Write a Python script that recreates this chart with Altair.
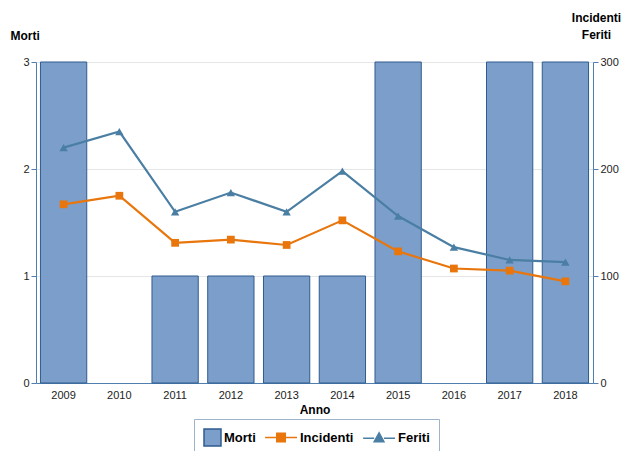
import altair as alt
import pandas as pd

anni = ["2009", "2010", "2011", "2012", "2013", "2014", "2015", "2016", "2017", "2018"]
morti = [3, 0, 1, 1, 1, 1, 3, 0, 3, 3]
incidenti = [167, 175, 131, 134, 129, 152, 123, 107, 105, 95]
feriti = [220, 235, 160, 178, 160, 198, 156, 127, 115, 113]

serie = ["Morti", "Incidenti", "Feriti"]
riempimenti = ["#7b9fca", "#e8760c", "#4a7ea3"]
contorni = ["#2f5b8f", "#e8760c", "#4a7ea3"]
forme_legenda = [
    "M-1,-1H1V1H-1Z",
    "M-1,-1M-1,1M-2.75,0H-1.38M-0.38,0H1M-1.38,-0.5H-0.38V0.5H-1.38Z",
    "M-1,-1M-1,1M-2.75,0.1H-1.45M-0.3,0.1H1M-0.87,-0.55L-0.3,0.5H-1.45Z",
]

COL_MORTI, COL_INC, COL_FER = "#7b9fca", "#e8760c", "#4a7ea3"
FONT = "Liberation Sans"
AX_COL = "#4f7fae"

bars_df = pd.DataFrame({"Anno": anni, "Valore": morti})
inc_df = pd.DataFrame({"Anno": anni, "Valore": incidenti})
fer_df = pd.DataFrame({"Anno": anni, "Valore": feriti})
leg_df = pd.DataFrame({"Serie": serie})

x_enc = alt.X("Anno:N", title="Anno", sort=anni,
              scale=alt.Scale(domain=anni, paddingInner=0.17, paddingOuter=0.08),
              axis=alt.Axis(labelAngle=0, ticks=False, domainColor=AX_COL,
                            labelFontSize=11, labelColor="#222", titleFontSize=12,
                            titleFontWeight="bold", titleColor="#000", labelPadding=6,
                            titlePadding=4))

bars = alt.Chart(bars_df).transform_filter("datum.Valore > 0").mark_bar(
    color=COL_MORTI, stroke="#2f5b8f", strokeWidth=1
).encode(
    x=x_enc,
    y=alt.Y("Valore:Q", title="Morti",
            scale=alt.Scale(domain=[0, 3]),
            axis=alt.Axis(values=[0, 1, 2, 3], format="d", orient="left",
                          titleAngle=0, titleX=-26, titleY=-20, titleAlign="left",
                          titleFontSize=12, titleFontWeight="bold", titleColor="#000",
                          labelFontSize=11, labelColor="#222", domainColor=AX_COL,
                          tickColor=AX_COL, tickSize=5, gridColor="#e6e6e6")),
)

right_axis = alt.Axis(values=[0, 100, 200, 300], orient="right", grid=False,
                      titleAngle=0, titleX=3, titleY=-38, titleAlign="center",
                      titleFontSize=12, titleFontWeight="bold", titleColor="#000",
                      titleLineHeight=17,
                      labelFontSize=11, labelColor="#222", domainColor=AX_COL,
                      tickColor=AX_COL, tickSize=5)


def y_right():
    return alt.Y("Valore:Q", title=["Incidenti", "Feriti"],
                 scale=alt.Scale(domain=[0, 300]), axis=right_axis)


inc_line = alt.Chart(inc_df).mark_line(color=COL_INC, strokeWidth=2.2).encode(
    x=alt.X("Anno:N", sort=anni), y=y_right())
inc_pts = alt.Chart(inc_df).mark_point(color=COL_INC, filled=True, shape="square",
                                        size=60, opacity=1).encode(
    x=alt.X("Anno:N", sort=anni), y=y_right())
fer_line = alt.Chart(fer_df).mark_line(color=COL_FER, strokeWidth=2.2).encode(
    x=alt.X("Anno:N", sort=anni), y=y_right())
fer_pts = alt.Chart(fer_df).mark_point(color=COL_FER, filled=True, shape="triangle-up",
                                        size=70, opacity=1).encode(
    x=alt.X("Anno:N", sort=anni), y=y_right())

legend = alt.Legend(title=None, orient="none", legendX=158, legendY=357,
                    direction="horizontal", strokeColor="#9db3cc", padding=9,
                    labelFont=FONT, labelFontSize=13, labelFontWeight="bold",
                    labelColor="#000", symbolSize=289, symbolStrokeWidth=1.5,
                    symbolOpacity=1, columnPadding=6, labelOffset=2,
                    labelBaseline="middle")

leg_layer = alt.Chart(leg_df).mark_point(filled=True, opacity=0, size=0).encode(
    fill=alt.Fill("Serie:N", scale=alt.Scale(domain=serie, range=riempimenti), legend=legend),
    stroke=alt.Stroke("Serie:N", scale=alt.Scale(domain=serie, range=contorni), legend=legend),
    shape=alt.Shape("Serie:N", scale=alt.Scale(domain=serie, range=forme_legenda), legend=legend),
)

right = alt.layer(inc_line, inc_pts, fer_line, fer_pts)

chart = alt.layer(bars, right, leg_layer).resolve_scale(y="independent").properties(
    width=557, height=321,
    autosize=alt.AutoSizeParams(type="none"),
    padding={"left": 28, "top": 54, "right": 31, "bottom": 68},
).configure(font=FONT).configure_view(stroke=None).configure_axis(
    labelFont=FONT, titleFont=FONT
)

chart.save("out.html", embed_options={"renderer": "svg", "actions": False})
